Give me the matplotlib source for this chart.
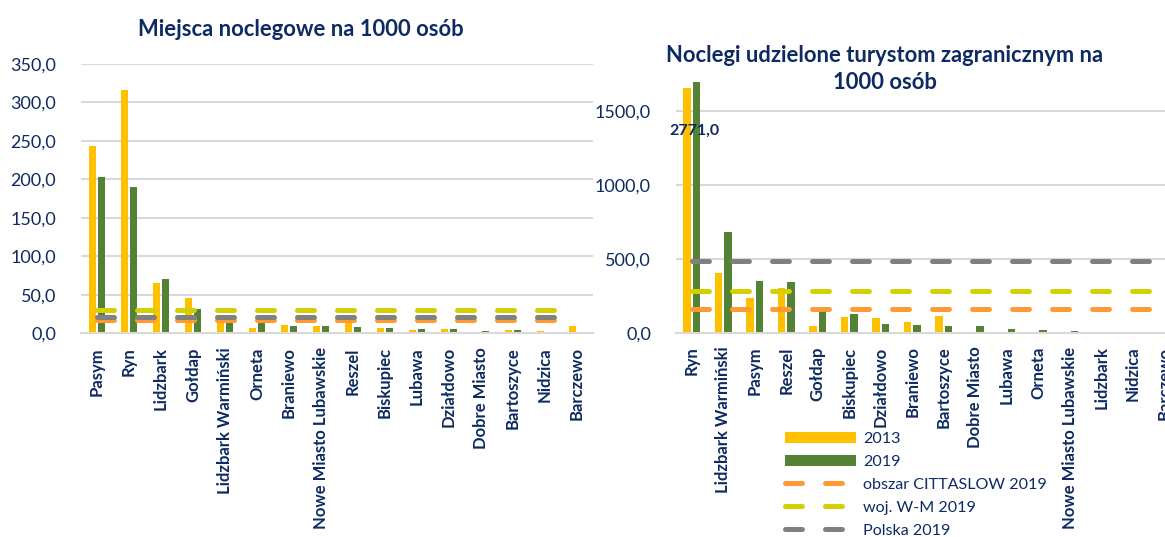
import numpy as np
import matplotlib.pyplot as plt
from matplotlib.ticker import FuncFormatter

plt.rcParams['font.family'] = ['Lato', 'DejaVu Sans']
plt.rcParams['lines.scale_dashes'] = False

# --- data: left chart (Miejsca noclegowe na 1000 osób)
towns_left = ['Pasym', 'Ryn', 'Lidzbark', 'Gołdap', 'Lidzbark Warmiński', 'Orneta',
              'Braniewo', 'Nowe Miasto Lubawskie', 'Reszel', 'Biskupiec', 'Lubawa',
              'Działdowo', 'Dobre Miasto', 'Bartoszyce', 'Nidzica', 'Barczewo']
beds_2013 = [243, 316, 66, 46, 22, 7, 10.5, 10, 20, 7, 4, 5.5, 0, 4.3, 3, 9.5]
beds_2019 = [203, 190, 71, 32, 19, 15, 9.5, 9, 8, 6.5, 5.5, 5, 3.5, 3.8, 1.7, 0]
beds_cittaslow = 17.0
beds_wm = 30.0
beds_pl = 21.0

# --- data: right chart (Noclegi udzielone turystom zagranicznym na 1000 osób)
towns_right = ['Ryn', 'Lidzbark Warmiński', 'Pasym', 'Reszel', 'Gołdap', 'Biskupiec',
               'Działdowo', 'Braniewo', 'Bartoszyce', 'Dobre Miasto', 'Lubawa', 'Orneta',
               'Nowe Miasto Lubawskie', 'Lidzbark', 'Nidzica', 'Barczewo']
nights_2013 = [1662, 407, 233, 301, 47, 109, 98, 75, 113, 0, 0, 0, 0, 0, 2, 2]
nights_2019 = [2771, 685, 351, 342, 140, 127, 59, 52, 45, 43, 25, 18, 13, 0, 0, 0]
nights_cittaslow = 159.0
nights_wm = 283.0
nights_pl = 489.0

# colours
c2013 = '#FFC000'
c2019 = '#548235'
c_citta = '#FF9933'
c_wm = '#D4CF00'
c_pl = '#808080'
navy = '#0E2A62'
grid_c = '#D9D9D9'

W, H = 1165, 537
fig = plt.figure(figsize=(W / 100, H / 100), dpi=100)

ax1 = fig.add_axes([81 / W, 1 - 333.3 / H, 512 / W, (333.3 - 64) / H])
ax2 = fig.add_axes([676 / W, 1 - 332.7 / H, 504 / W, (332.7 - 82) / H])

bw = 0.235
off = 0.148
dash = (12.2, 16.6)


def draw(ax, towns, v13, v19, refs, ymax, step):
    x = np.arange(len(towns))
    ax.bar(x - off, v13, bw, color=c2013, label='2013', zorder=2)
    ax.bar(x + off, v19, bw, color=c2019, label='2019', zorder=2)
    for val, col, lab in refs:
        ln, = ax.plot(x, [val] * len(x), color=col, lw=3.6, label=lab,
                      solid_capstyle='round', dash_capstyle='round', zorder=3)
        ln.set_dashes(dash)
    ax.set_xlim(-0.5, len(towns) - 0.5)
    ax.set_ylim(0, ymax)
    ax.set_yticks(np.arange(0, ymax + 1, step))
    ax.yaxis.set_major_formatter(FuncFormatter(lambda v, p: f'{v:.1f}'.replace('.', ',')))
    ax.set_xticks(x)
    ax.set_xticklabels(towns, rotation=90, fontsize=12, fontweight='bold', color=navy)
    ax.tick_params(axis='y', labelsize=13, labelcolor=navy, length=0, pad=18)
    ax.tick_params(axis='x', length=0, pad=10)
    ax.yaxis.grid(True, color=grid_c, lw=1.5)
    ax.set_axisbelow(True)
    for s in ['top', 'right', 'left']:
        ax.spines[s].set_visible(False)
    ax.spines['bottom'].set_color(grid_c)
    ax.spines['bottom'].set_linewidth(1.5)


draw(ax1, towns_left, beds_2013, beds_2019,
     [(beds_cittaslow, c_citta, 'obszar CITTASLOW 2019'),
      (beds_wm, c_wm, 'woj. W-M 2019'),
      (beds_pl, c_pl, 'Polska 2019')], 350, 50)
draw(ax2, towns_right, nights_2013, nights_2019,
     [(nights_cittaslow, c_citta, 'obszar CITTASLOW 2019'),
      (nights_wm, c_wm, 'woj. W-M 2019'),
      (nights_pl, c_pl, 'Polska 2019')], 1700, 500)

# value of the clipped Ryn bar
ax2.text(0.1, 1368, '2771,0', ha='center', va='center', fontsize=11.5,
         fontweight='bold', color=navy, zorder=5)

fig.text(301 / W, 1 - 30 / H, 'Miejsca noclegowe na 1000 osób', ha='center',
         va='center', fontsize=15.8, fontweight='bold', color=navy)
fig.text(885 / W, 1 - 69 / H, 'Noclegi udzielone turystom zagranicznym na\n1000 osób',
         ha='center', va='center', fontsize=15.8, fontweight='bold', color=navy,
         linespacing=1.3)

handles, labels = ax2.get_legend_handles_labels()
order = [3, 4, 0, 1, 2]
fig.legend([handles[i] for i in order], [labels[i] for i in order],
           loc='upper left', bbox_to_anchor=(785 / W, 1 - 432 / H),
           frameon=False, fontsize=11.6, labelcolor=navy, handlelength=4.4,
           handletextpad=0.45, labelspacing=0.53, borderaxespad=0, borderpad=0)

fig.savefig('out.png', dpi=100)
